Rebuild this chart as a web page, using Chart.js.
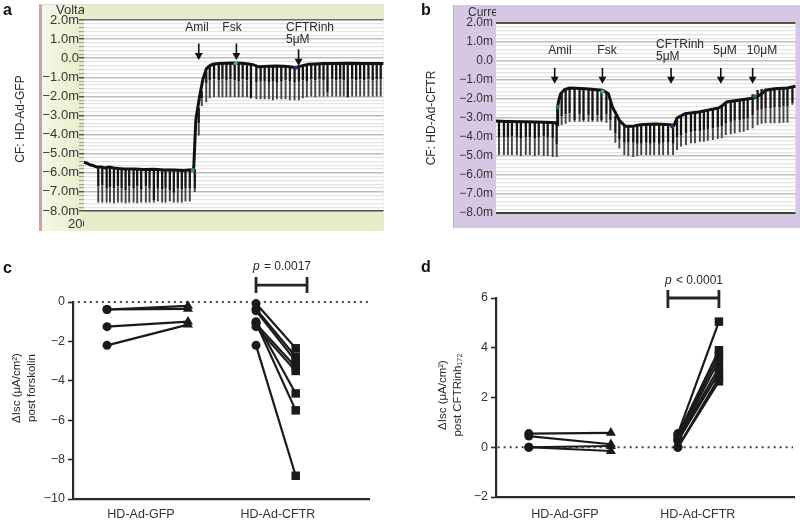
<!DOCTYPE html>
<html>
<head>
<meta charset="utf-8">
<style>
  html, body { margin: 0; padding: 0; background: #fff; }
  #page { position: relative; width: 800px; height: 522px; overflow: hidden; }
  canvas { position: absolute; }
  .panel { position: absolute; box-sizing: border-box; }
  #panelA { left: 39px; top: 4px; width: 345px; height: 227px; border-left: 3px solid #c9a3a5; border-top: 1px solid #ddd;
            background: linear-gradient(90deg, #f5f8ea 0, #f1f4dd 12px, #e7edca 45px); }
  #panelB { left: 453px; top: 5px; width: 347px; height: 223px; border-left: 1px solid #b5b0ba; background: #d6c7e4; }
</style>
<script src="https://cdn.jsdelivr.net/npm/chart.js@4"></script>
</head>
<body>
<div id="page">
  <div class="panel" id="panelA"></div>
  <div class="panel" id="panelB"></div>
  <canvas id="chartA" style="left:0;top:0" width="388" height="240"></canvas>
  <canvas id="chartB" style="left:400px;top:0" width="400" height="240"></canvas>
  <canvas id="chartC" style="left:0;top:255px" width="400" height="267"></canvas>
  <canvas id="chartD" style="left:400px;top:255px" width="400" height="267"></canvas>
</div>
<script>
// Panel a: voltage trace
var traceTimeA = [0, 3, 6, 9, 13, 17, 21, 25, 30, 35, 40, 50, 60, 70, 80, 90, 100, 105, 109, 110, 111, 112, 112.7, 114, 116, 119.3, 122.7, 126, 129, 135, 142, 150, 158, 165, 170, 175, 185, 192, 200, 206, 212, 218, 225, 232, 240, 250, 265, 280, 300];
var traceValueA = [-5.45, -5.5, -5.58, -5.62, -5.7, -5.7, -5.75, -5.7, -5.75, -5.78, -5.8, -5.8, -5.83, -5.82, -5.85, -5.85, -5.88, -5.85, -5.85, -5.7, -4.5, -3.3, -3, -2.6, -1.95, -1.07, -0.55, -0.4, -0.32, -0.28, -0.27, -0.25, -0.27, -0.3, -0.35, -0.45, -0.42, -0.41, -0.42, -0.45, -0.5, -0.4, -0.32, -0.3, -0.28, -0.28, -0.27, -0.28, -0.28];
var pulseTimeA = [14.3, 18.3, 22.7, 26, 30, 34, 37.7, 41.7, 45.3, 49.7, 53.3, 57.3, 62, 65.7, 70, 74, 78.3, 81.7, 86, 90, 94, 98, 101.7, 106, 111,
  115, 118, 122.5, 126, 130.3, 135, 138.7, 142.7, 146.7, 151, 155, 159, 163.3, 167.3, 172.7, 177, 181, 185.3, 189.3, 193.3, 197.7, 202, 206.3, 211, 215.3, 219.3, 223.3, 227.7, 231.7, 236, 240, 244, 248.7, 252.7, 256.7, 260.3, 264.3, 268.7, 272.7, 276.7, 280.7, 285, 289.3, 293.3, 297.3];
var pulseTopA = [-5.7, -5.7, -5.72, -5.72, -5.72, -5.75, -5.78, -5.78, -5.8, -5.8, -5.8, -5.82, -5.82, -5.82, -5.82, -5.85, -5.85, -5.85, -5.88, -5.85, -5.85, -5.85, -5.85, -5.85, -5.8,
  -2.6, -1.7, -0.7, -0.45, -0.35, -0.3, -0.28, -0.27, -0.26, -0.25, -0.27, -0.28, -0.3, -0.32, -0.45, -0.44, -0.43, -0.42, -0.42, -0.42, -0.43, -0.42, -0.44, -0.46, -0.45, -0.38, -0.33, -0.3, -0.3, -0.29, -0.28, -0.28, -0.28, -0.28, -0.28, -0.28, -0.28, -0.28, -0.28, -0.28, -0.28, -0.28, -0.28, -0.28, -0.28];
var pulseMidA = [-6.7, -6.65, -6.8, -6.75, -6.8, -6.7, -6.8, -6.9, -6.7, -6.8, -6.7, -6.85, -6.7, -6.8, -7.45, -6.8, -6.85, -6.8, -6.9, -7.05, -6.8, -6.85, -6.8, -6.8, -6.8,
  -3.4, -2.1, -1.3, -1.15, -1.1, -1.15, -1.1, -1.15, -1.1, -1.15, -1.2, -1.1, -1.15, -2.1, -1.25, -1.2, -1.2, -1.25, -1.2, -1.25, -1.2, -1.15, -1.2, -1.25, -1.2, -1.15, -1.2, -1.1, -1.15, -1.1, -1.15, -1.8, -1.1, -1.15, -1.1, -1.15, -2.05, -1.1, -1.15, -1.1, -1.15, -1.1, -1.15, -1.1, -1.1];
var pulseBottomA = [-7.55, -7.55, -7.55, -7.55, -7.6, -7.55, -7.55, -7.6, -7.55, -7.55, -7.6, -7.55, -7.55, -7.55, -7.55, -7.5, -7.55, -7.55, -7.5, -7.55, -7.55, -7.55, -7.5, -7.5, -7.0,
  -4.05, -2.5, -2.3, -2.1, -2.05, -2.05, -2.05, -2.05, -2.05, -2.05, -2.05, -2.05, -2.05, -2.1, -2.15, -2.15, -2.15, -2.15, -2.2, -2.15, -2.15, -2.15, -2.2, -2.2, -2.2, -2.1, -2.05, -2.0, -2.05, -2.0, -2.0, -2.0, -2.0, -2.0, -2.0, -2.0, -2.05, -2.0, -2.0, -2.0, -2.0, -2.0, -2.0, -2.0, -2.0];
var arrowTimeA = [115, 152.7, 215];
var arrowTailA = [0.77, 0.77, 0.47];
var arrowHeadA = [0.15, 0.15, -0.15];
var dotTimeA = [109, 152, 212];
var dotValueA = [-5.85, -0.27, -0.5];
var dotColorA = ['#2b9a6a', '#35b5a5', '#27307c'];

// Panel b: current trace
var traceTimeB = [0, 10, 30, 50, 60, 61.5, 62, 63, 65, 69, 74, 90, 107, 113, 117, 124, 130, 137, 145, 160, 175, 179, 182, 190, 204, 224, 228, 232, 237, 259, 266, 271, 280, 293, 301];
var traceValueB = [-3.16, -3.18, -3.2, -3.22, -3.25, -3.35, -2.42, -2.1, -1.72, -1.5, -1.42, -1.46, -1.54, -1.72, -2.42, -3.12, -3.44, -3.44, -3.36, -3.32, -3.35, -3.39, -3.0, -2.77, -2.68, -2.47, -2.33, -2.16, -2.12, -1.95, -1.77, -1.54, -1.46, -1.42, -1.33];
var pulseTimeB = [3, 8, 12, 16, 21, 25, 30, 34, 39, 43, 48, 52, 57, 61,
  66, 70, 74, 79, 84, 88, 93, 97, 102, 106, 111, 115, 120, 124, 129, 133, 138, 142,
  146, 151, 155, 159, 164, 168, 173, 178, 182, 186, 191, 196, 200, 205, 209, 213, 218, 223, 227, 231, 236, 240, 245, 249, 253, 258, 263, 267, 271, 276, 280, 285, 289, 293, 298];
var pulseTopB = [-3.18, -3.18, -3.18, -3.18, -3.2, -3.2, -3.2, -3.2, -3.22, -3.22, -3.22, -3.24, -3.25, -3.3,
  -1.7, -1.5, -1.45, -1.42, -1.44, -1.45, -1.46, -1.46, -1.48, -1.5, -1.62, -2.2, -2.9, -3.2, -3.42, -3.44, -3.44, -3.42,
  -3.38, -3.35, -3.33, -3.33, -3.33, -3.34, -3.35, -3.38, -3.1, -2.85, -2.76, -2.74, -2.72, -2.68, -2.65, -2.62, -2.58, -2.5, -2.4, -2.2, -2.12, -2.1, -2.06, -2.02, -1.95, -1.75, -1.52, -1.47, -1.46, -1.44, -1.42, -1.4, -1.4, -1.38, -1.33];
var pulseMidB = [-4, -4, -4, -3.95, -4, -4.05, -4, -4, -4.05, -4, -3.95, -4, -4.05, -4.4,
  -2.9, -2.8, -2.75, -3.1, -2.8, -3.1, -2.85, -3.1, -2.85, -3.1, -2.8, -3.1, -3.8, -4.1, -4.3, -4.3, -4.3, -4.35,
  -4.35, -4.3, -4.35, -4.3, -4.35, -4.3, -4.3, -4.35, -4, -3.9, -3.8, -3.75, -3.7, -3.7, -3.65, -3.6, -3.55, -3.5, -3.45, -3.3, -3.2, -3.15, -3.1, -3.05, -3, -2.85, -2.6, -2.55, -2.5, -2.5, -2.45, -2.45, -2.4, -2.4, -2.2];
var pulseBottomB = [-4.95, -4.95, -4.95, -4.95, -4.95, -5, -4.95, -4.95, -5, -4.95, -5, -5, -5.05, -5.05,
  -3.37, -3.3, -3.2, -3.2, -3.2, -3.2, -3.2, -3.2, -3.2, -3.2, -3.25, -3.65, -4.3, -4.6, -4.95, -5, -5.05, -5,
  -4.95, -4.95, -4.95, -4.95, -4.95, -4.95, -4.95, -4.95, -4.68, -4.5, -4.42, -4.33, -4.33, -4.25, -4.25, -4.2, -4.16, -4.1, -4.07, -3.9, -3.85, -3.8, -3.75, -3.72, -3.65, -3.54, -3.37, -3.3, -3.28, -3.28, -3.28, -3.28, -3.25, -3.25, -2.3];
var arrowTimeB = [59, 107, 176, 226, 258];
var arrowTailB = [-0.37, -0.37, -0.37, -0.37, -0.37];
var arrowHeadB = [-0.95, -0.95, -0.95, -0.95, -0.95];
var dotTimeB = [62, 107, 177, 260];
var dotValueB = [-2.42, -1.6, -3.45, -1.85];
var dotColorB = ['#1f7a3f', '#35b5a5', '#27307c', '#1f7a3f'];

// Panel c: delta Isc post forskolin
var gfpPreC = [-0.38, -0.38, -1.25, -2.2];
var gfpPostC = [-0.2, -0.35, -1, -1.15];
var cftrPreC = [-0.08, -0.35, -0.45, -1.05, -1, -1.1, -1.25, -2.2];
var cftrPostC = [-2.35, -2.78, -3, -5.5, -4.64, -3.3, -3.5, -8.82];
var slotsC = [1, 2, 2.84, 3.33];
var bracketXC = [2.84, 2.84, null, 2.84, 3.47, null, 3.47, 3.47];
var bracketYC = [1.27, 0.46, null, 0.86, 0.86, null, 1.27, 0.46];

// Panel d: delta Isc post CFTRinh172
var gfpPreD = [0.55, 0.45, 0, 0];
var gfpPostD = [0.58, 0.12, 0.05, -0.15];
var cftrPreD = [0.55, 0.5, 0.45, 0.35, 0.3, 0.25, 0, 0];
var cftrPostD = [5.05, 3.9, 3.7, 3.5, 3.2, 3, 2.8, 2.65];
var slotsD = [1, 2, 2.817, 3.317];
var bracketXD = [2.695, 2.695, null, 2.695, 3.317, null, 3.317, 3.317];
var bracketYD = [6.32, 5.6, null, 6, 6, null, 6.32, 5.6];

var groupLabels = ['HD-Ad-GFP', 'HD-Ad-CFTR'];

var INK = '#2a2a2a';
var FONT = '"Liberation Sans", Arial, sans-serif';
Chart.defaults.font.family = FONT;
Chart.defaults.color = INK;
Chart.defaults.animation = false;

// free text: panel letters, drug names, axis titles
var textPlugin = {
  id: 'textMarks',
  afterDraw: function (chart, args, opts) {
    var ctx = chart.ctx;
    (opts.items || []).forEach(function (t) {
      ctx.save();
      if (t.clipRight) {
        ctx.beginPath();
        ctx.rect(0, 0, t.clipRight, chart.height);
        ctx.clip();
      }
      ctx.translate(t.x, t.y);
      if (t.rot) ctx.rotate(t.rot * Math.PI / 180);
      ctx.font = (t.style || '') + ' ' + (t.size || 12) + 'px ' + FONT;
      ctx.fillStyle = t.color || INK;
      ctx.textAlign = t.align || 'left';
      ctx.textBaseline = 'middle';
      ctx.fillText(t.text, 0, 0);
      ctx.restore();
    });
  }
};

// white plot background on the recorder panels
var plotBg = {
  id: 'plotBg',
  beforeDraw: function (chart, args, opts) {
    if (!opts.color) return;
    var a = chart.chartArea;
    chart.ctx.fillStyle = opts.color;
    chart.ctx.fillRect(a.left, a.top, a.right - a.left, a.bottom - a.top);
  }
};
Chart.register(textPlugin, plotBg);

function zip(xs, ys) {
  return xs.map(function (x, i) { return { x: x, y: ys[i] }; });
}

function lineSet(points, color, width, extra) {
  return Object.assign({
    data: points, showLine: true, borderColor: color, backgroundColor: color,
    borderWidth: width, pointRadius: 0, tension: 0, clip: false, order: 1
  }, extra || {});
}

function pulseSegments(times, from, to) {
  var out = [];
  times.forEach(function (t, i) {
    out.push({ x: t, y: from[i] }, { x: t, y: to[i] }, { x: t, y: null });
  });
  return out;
}

function arrowSets(times, tails, heads) {
  return times.map(function (t, i) {
    return lineSet([{ x: t, y: tails[i] }, { x: t, y: heads[i] }], '#111', 1.6, {
      pointStyle: 'triangle', pointRadius: [0, 4.6], pointRotation: [0, 180],
      pointBorderWidth: 0, pointBackgroundColor: '#111'
    });
  });
}

function isMajor(v) { return Math.abs(v - Math.round(v)) < 0.01; }

function recorderLabel(v) {
  if (!isMajor(v)) return '';
  var r = Math.round(v);
  if (r === 0) return '0.0';
  return (r < 0 ? '\u2212' : '') + Math.abs(r) + '.0m';
}

function recorderChart(id, cfg) {
  new Chart(document.getElementById(id), {
    type: 'scatter',
    data: {
      datasets: [
        lineSet(pulseSegments(cfg.pulseTime, cfg.pulseMid, cfg.pulseBottom), '#444', 1.9),
        lineSet(pulseSegments(cfg.pulseTime, cfg.pulseTop, cfg.pulseMid), '#151515', 2.3),
        lineSet(zip(cfg.traceTime, cfg.traceValue), '#111', 3),
        { data: zip(cfg.dotTime, cfg.dotValue), pointRadius: 2, pointBackgroundColor: cfg.dotColor, pointBorderWidth: 0, clip: false }
      ].concat(arrowSets(cfg.arrowTime, cfg.arrowTail, cfg.arrowHead))
    },
    options: {
      responsive: false,
      events: [],
      layout: { padding: cfg.padding },
      plugins: { legend: { display: false }, tooltip: { enabled: false }, plotBg: { color: '#fff' }, textMarks: { items: cfg.texts } },
      scales: {
        x: { type: 'linear', display: false, min: 0, max: cfg.maxTime },
        y: {
          min: -8, max: 2,
          afterFit: function (s) { s.width = cfg.axisWidth; },
          border: { display: false },
          grid: {
            color: function (c) {
              var v = c.tick.value;
              if (Math.abs(v - 2) < 0.01) return cfg.topColor;
              if (Math.abs(v + 8) < 0.01) return cfg.bottomColor;
              return isMajor(v) ? '#bdbdbd' : '#e3e3e3';
            },
            lineWidth: function (c) {
              var v = c.tick.value;
              if (Math.abs(v - 2) < 0.01 || Math.abs(v + 8) < 0.01) return cfg.edgeWidth;
              return isMajor(v) ? 1.5 : 1.2;
            },
            drawTicks: cfg.ticks,
            tickLength: 5,
            tickColor: function (c) { return isMajor(c.tick.value) ? '#333' : '#999'; },
            tickWidth: function (c) { return isMajor(c.tick.value) ? 1.2 : 1; }
          },
          ticks: {
            stepSize: 0.2, autoSkip: false, padding: cfg.ticks ? 0 : 3,
            font: { size: cfg.tickSize }, color: '#333',
            callback: recorderLabel
          }
        }
      }
    }
  });
}

recorderChart('chartA', {
  traceTime: traceTimeA, traceValue: traceValueA,
  pulseTime: pulseTimeA, pulseTop: pulseTopA, pulseMid: pulseMidA, pulseBottom: pulseBottomA,
  arrowTime: arrowTimeA, arrowTail: arrowTailA, arrowHead: arrowHeadA,
  dotTime: dotTimeA, dotValue: dotValueA, dotColor: dotColorA,
  maxTime: 300, axisWidth: 84, padding: { top: 20, bottom: 29, right: 0 },
  ticks: true, tickSize: 13, topColor: '#6a6a78', bottomColor: '#4a4a4a', edgeWidth: 1.6,
  texts: [
    { text: 'a', x: 3, y: 11, style: 'bold', size: 16, color: '#111' },
    { text: 'Voltage', x: 56, y: 10, size: 13, clipRight: 84, color: '#333' },
    { text: '200', x: 68, y: 224, size: 13, clipRight: 84, color: '#333' },
    { text: 'CF: HD-Ad-GFP', x: 21, y: 119, rot: -90, align: 'center' },
    { text: 'Amil', x: 197, y: 28, align: 'center' },
    { text: 'Fsk', x: 232, y: 28, align: 'center' },
    { text: 'CFTRinh', x: 286, y: 28 },
    { text: '5\u03bcM', x: 286, y: 40 }
  ]
});

recorderChart('chartB', {
  traceTime: traceTimeB, traceValue: traceValueB,
  pulseTime: pulseTimeB, pulseTop: pulseTopB, pulseMid: pulseMidB, pulseBottom: pulseBottomB,
  arrowTime: arrowTimeB, arrowTail: arrowTailB, arrowHead: arrowHeadB,
  dotTime: dotTimeB, dotValue: dotValueB, dotColor: dotColorB,
  maxTime: 301, axisWidth: 96, padding: { top: 23, bottom: 27, right: 0 },
  ticks: false, tickSize: 12, topColor: '#4f5a45', bottomColor: '#2f4a22', edgeWidth: 2,
  texts: [
    { text: 'b', x: 21, y: 11, style: 'bold', size: 16, color: '#111' },
    { text: 'Current', x: 68, y: 13, size: 12, clipRight: 96, color: '#333' },
    { text: 'CF: HD-Ad-CFTR', x: 32, y: 118, rot: -90, align: 'center' },
    { text: 'Amil', x: 160, y: 51, align: 'center' },
    { text: 'Fsk', x: 207, y: 51, align: 'center' },
    { text: 'CFTRinh', x: 256, y: 45 },
    { text: '5\u03bcM', x: 256, y: 57 },
    { text: '5\u03bcM', x: 325, y: 51, align: 'center' },
    { text: '10\u03bcM', x: 362, y: 51, align: 'center' }
  ]
});

function pairedChart(id, cfg) {
  var datasets = [];
  // dotted zero line sits under the marks
  datasets.push(lineSet(zip(cfg.zeroX, [0, 0]), '#444', 1.8, { borderDash: [2, 4], order: 3 }));
  function addPairs(pre, post, x0, x1, style, radius) {
    pre.forEach(function (v, i) {
      datasets.push(lineSet([{ x: x0, y: v }, { x: x1, y: post[i] }], '#1a1a1a', 2.2, {
        pointStyle: ['circle', style], pointRadius: [4.5, radius],
        pointBackgroundColor: '#1a1a1a', pointBorderWidth: 0, order: 2
      }));
    });
  }
  addPairs(cfg.gfpPre, cfg.gfpPost, cfg.slots[0], cfg.slots[1], 'triangle', 5.8);
  addPairs(cfg.cftrPre, cfg.cftrPost, cfg.slots[2], cfg.slots[3], 'rect', 6);
  datasets.push(lineSet(zip(cfg.bracketX, cfg.bracketY), '#262626', 2.8));

  new Chart(document.getElementById(id), {
    type: 'scatter',
    data: { datasets: datasets },
    options: {
      responsive: false,
      events: [],
      layout: { padding: cfg.padding },
      plugins: { legend: { display: false }, tooltip: { enabled: false }, textMarks: { items: cfg.texts } },
      scales: {
        x: {
          type: 'linear', min: cfg.xMin, max: cfg.xMax,
          afterBuildTicks: function (s) { s.ticks = cfg.labelSlots.map(function (v) { return { value: v }; }); },
          afterFit: function (s) { s.height = 23; },
          border: { color: INK, width: 2.2 },
          grid: { display: false, drawTicks: false },
          ticks: {
            autoSkip: false, maxRotation: 0, padding: cfg.labelGap, font: { size: 12.5 }, color: '#333',
            callback: function (v) { return groupLabels[cfg.labelSlots.indexOf(v)]; }
          }
        },
        y: {
          min: cfg.yMin, max: cfg.yMax,
          afterFit: function (s) { s.width = cfg.axisWidth; },
          border: { color: INK, width: 2.2 },
          grid: { drawOnChartArea: false, tickLength: 5, tickColor: INK, tickWidth: 1.6 },
          ticks: {
            stepSize: 2, padding: 3, font: { size: 12.5 }, color: '#333',
            callback: function (v) { return (v < 0 ? '\u2212' : '') + Math.abs(v); }
          }
        }
      }
    }
  });
}

pairedChart('chartC', {
  gfpPre: gfpPreC, gfpPost: gfpPostC, cftrPre: cftrPreC, cftrPost: cftrPostC, slots: slotsC,
  bracketX: bracketXC, bracketY: bracketYC,
  zeroX: [0.64, 4.27], xMin: 0.58, xMax: 4.235, yMin: -10, yMax: 0, labelGap: 8,
  labelSlots: [1.42, 3.11], axisWidth: 73, padding: { top: 47, bottom: 0, right: 31 },
  texts: [
    { text: 'c', x: 3, y: 14, style: 'bold', size: 16, color: '#111' },
    { text: '\u0394Isc (\u03bcA/cm\u00b2)', x: 17, y: 133, rot: -90, align: 'center', size: 11.5 },
    { text: 'post forskolin', x: 32, y: 133, rot: -90, align: 'center', size: 11.5 },
    { text: 'p', x: 253, y: 12, style: 'italic', size: 12 },
    { text: '= 0.0017', x: 264, y: 12, size: 12 }
  ]
});

pairedChart('chartD', {
  gfpPre: gfpPreD, gfpPost: gfpPostD, cftrPre: cftrPreD, cftrPost: cftrPostD, slots: slotsD,
  bracketX: bracketXD, bracketY: bracketYD,
  zeroX: [0.62, 4.22], xMin: 0.6, xMax: 4.232, yMin: -2, yMax: 6, labelGap: 10,
  labelSlots: [1.44, 3.06], axisWidth: 96, padding: { top: 43, bottom: 2, right: 6 },
  texts: [
    { text: 'd', x: 21, y: 13, style: 'bold', size: 16, color: '#111' },
    { text: '\u0394Isc (\u03bcA/cm\u00b2)', x: 43, y: 140, rot: -90, align: 'center', size: 11.5 },
    { text: 'post CFTRinh\u2081\u2087\u2082', x: 58, y: 140, rot: -90, align: 'center', size: 11.5 },
    { text: 'p', x: 265, y: 26, style: 'italic', size: 12 },
    { text: '< 0.0001', x: 276, y: 26, size: 12 }
  ]
});
</script>
</body>
</html>
